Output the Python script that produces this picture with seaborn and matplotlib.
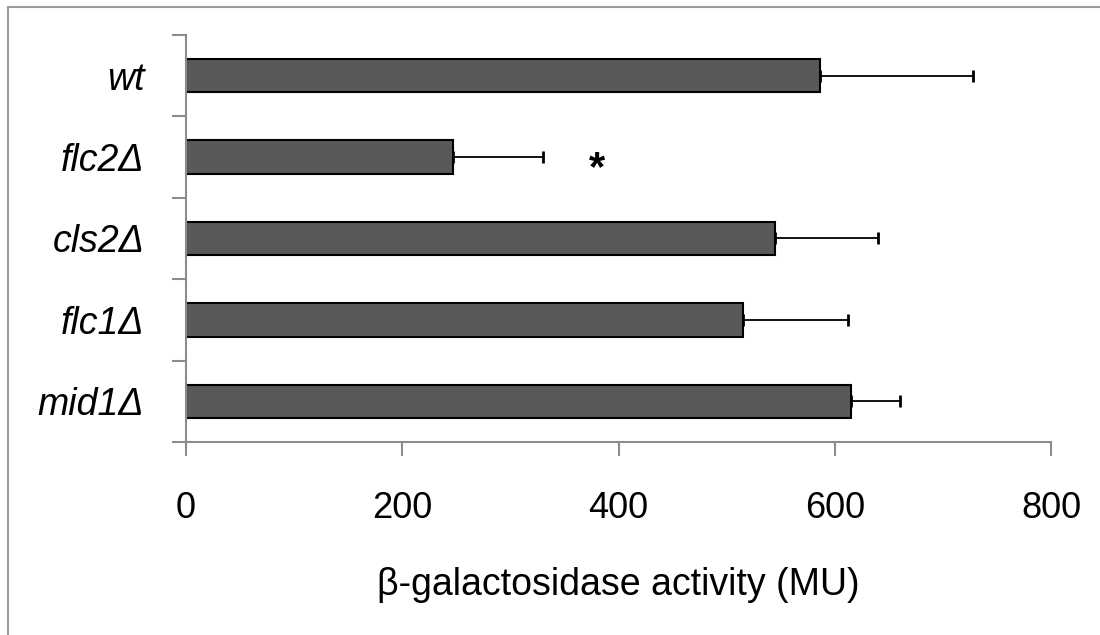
import matplotlib
matplotlib.use("Agg")
import matplotlib.pyplot as plt
from matplotlib.patches import Rectangle
from matplotlib.ticker import FixedLocator
import numpy as np
import pandas as pd
import seaborn as sns

# Reporter activity per strain (Miller units) and one-sided error
strains = ["wt", "flc2Δ", "cls2Δ", "flc1Δ", "mid1Δ"]
activity = [586, 247, 545, 515, 615]
error = [142, 83, 95, 97, 45]
x_ticks = [0, 200, 400, 600, 800]
significance_strain = "flc2Δ"
significance_x = 380

sns.set_style("white")
plt.rcParams["font.family"] = ["Liberation Sans", "DejaVu Sans"]
plt.rcParams["text.color"] = "black"
plt.rcParams["axes.labelcolor"] = "black"
plt.rcParams["xtick.labelcolor"] = "black"
plt.rcParams["ytick.labelcolor"] = "black"

fig = plt.figure(figsize=(11, 6.35), dpi=100)
ax = fig.add_axes([186 / 1100, 1 - 442 / 635, (1051 - 186) / 1100, (442 - 35) / 635])

df = pd.DataFrame({"strain": strains, "activity": activity})
sns.barplot(data=df, x="activity", y="strain", orient="h", color="#595959",
            saturation=1, edgecolor="black", linewidth=1.5, width=0.41, ax=ax)

pos = np.arange(len(strains))
ax.errorbar(activity, pos, xerr=[np.zeros(len(error)), error], fmt="none",
            ecolor="black", elinewidth=1.3, capsize=4, capthick=2, zorder=3)

# significance marker
sig_y = strains.index(significance_strain) + 0.15
ax.text(significance_x, sig_y, "*", ha="center", va="center",
        fontsize=30, fontweight="bold", color="black")

ax.set_xlim(x_ticks[0], x_ticks[-1])
ax.set_ylim(len(strains) - 0.5, -0.5)
ax.set_xticks(x_ticks)
ax.set_xticklabels([str(t) for t in x_ticks], fontsize=26)

# category boundary ticks, labels centred between them
ax.yaxis.set_major_locator(FixedLocator(np.arange(len(strains) + 1) - 0.5))
ax.yaxis.set_minor_locator(FixedLocator(pos))
ax.set_yticklabels([], minor=False)
ax.set_yticklabels(strains, minor=True, fontsize=27, style="italic")
ax.tick_params(axis="y", which="major", direction="out", length=10, width=1.5,
               color="#8c8c8c", left=True)
ax.tick_params(axis="y", which="minor", length=0, pad=30)
ax.tick_params(axis="x", which="major", direction="out", length=10, width=1.5,
               color="#8c8c8c", pad=25, bottom=True)

for side in ("top", "right"):
    ax.spines[side].set_visible(False)
for side in ("left", "bottom"):
    ax.spines[side].set_color("#8c8c8c")
    ax.spines[side].set_linewidth(1.5)

ax.set_ylabel("")
ax.set_xlabel("β-galactosidase activity (MU)", fontsize=27, labelpad=30)

# outer chart frame
fig.patches.append(Rectangle((8 / 1100, -0.1), 1.2, 1.1 - 7 / 635,
                             transform=fig.transFigure, fill=False,
                             edgecolor="#9a9a9a", linewidth=1.5))

fig.savefig("out.png", dpi=100)
